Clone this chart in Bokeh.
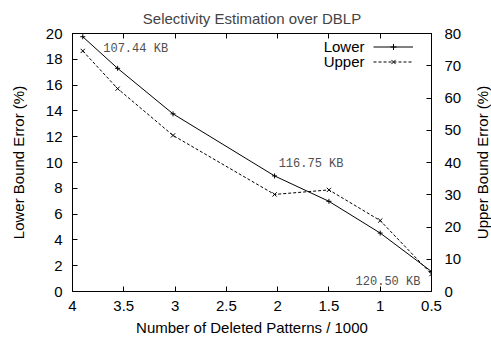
import math
from bokeh.plotting import figure
from bokeh.models import (Range1d, LinearAxis, FixedTicker, CustomJSTickFormatter,
                          Legend, LegendItem, Label, ColumnDataSource)
from bokeh.core.properties import value
from bokeh.embed import file_html
from bokeh.resources import INLINE

# ---- data ----
deleted_k = [3.9, 3.56, 3.02, 2.03, 1.5, 1.0, 0.5]
lower_err = [19.75, 17.3, 13.77, 8.96, 6.99, 4.53, 1.55]
upper_err = [74.6, 62.9, 48.4, 30.1, 31.5, 22.0, 5.4]

x_ticks = [4, 3.5, 3, 2.5, 2, 1.5, 1, 0.5]
x_tick_labels = ["4", "3.5", "3", "2.5", "2", "1.5", "1", "0.5"]
y_ticks = [0, 2, 4, 6, 8, 10, 12, 14, 16, 18, 20]
y2_ticks = [0, 10, 20, 30, 40, 50, 60, 70, 80]

note_x = [3.70, 1.99, 1.24]
note_y = [18.8, 9.9, 0.7]
note_text = ["107.44 KB", "116.75 KB", "120.50 KB"]

series_names = ["Lower", "Upper"]
right_axis_title = "Upper Bound Error (%)"

FONT = "Liberation Sans"
MONO = "Liberation Mono"
FS = "15px"

p = figure(width=491, height=343, output_backend="svg", toolbar_location=None,
           x_range=Range1d(4, 0.5), y_range=Range1d(0, 20),
           min_border_left=72, min_border_right=60, min_border_top=33, min_border_bottom=52,
           x_axis_location=None, y_axis_location=None)
p.extra_y_ranges = {"upper": Range1d(0, 80)}
p.grid.visible = False
p.outline_line_color = "black"
p.outline_line_width = 1
p.background_fill_color = "white"
p.border_fill_color = "white"

p.title.text = "Selectivity Estimation over DBLP"
p.title.align = "center"
p.title.text_font = FONT
p.title.text_font_size = FS
p.title.text_font_style = "normal"
p.title.standoff = 14
p.title.offset = 0


def style_axis(ax, standoff):
    ax.major_tick_in = 5
    ax.major_tick_out = 0
    ax.minor_tick_in = 0
    ax.minor_tick_out = 0
    ax.axis_line_color = "black"
    ax.major_tick_line_color = "black"
    ax.major_label_text_font = FONT
    ax.major_label_text_font_size = FS
    ax.major_label_text_color = "black"
    ax.major_label_standoff = standoff
    ax.axis_label_text_font = FONT
    ax.axis_label_text_font_size = FS
    ax.axis_label_text_font_style = "normal"
    ax.axis_label_text_color = "black"


xb = LinearAxis(ticker=FixedTicker(ticks=x_ticks), axis_label="Number of Deleted Patterns / 1000")
xb.major_label_overrides = {t: l for t, l in zip(x_ticks, x_tick_labels)}
style_axis(xb, 9)
xb.axis_label_standoff = 5
p.add_layout(xb, "below")

xt = LinearAxis(ticker=FixedTicker(ticks=x_ticks),
                formatter=CustomJSTickFormatter(code="return ''"))
style_axis(xt, 0)
p.add_layout(xt, "above")

yl = LinearAxis(ticker=FixedTicker(ticks=y_ticks), axis_label="Lower Bound Error (%)")
style_axis(yl, 10)
yl.axis_label_standoff = 16
p.add_layout(yl, "left")

yr = LinearAxis(y_range_name="upper", ticker=FixedTicker(ticks=y2_ticks))
style_axis(yr, 13)
p.add_layout(yr, "right")

# right axis title, reading bottom-to-top like the reference (side panel: not clipped)
p.add_layout(Label(x=18, y=129, x_units="screen", y_units="screen",
                   text=right_axis_title, angle=math.pi / 2,
                   text_align="center", text_baseline="middle",
                   text_font=FONT, text_font_size=FS, text_color="black"), "right")

src = ColumnDataSource(dict(x=deleted_k, lo=lower_err, up=upper_err))

l1 = p.line("x", "lo", source=src, line_color="black", line_width=1)
m1 = p.scatter("x", "lo", source=src, marker="cross", size=5, line_color="black", line_width=1)
l2 = p.line("x", "up", source=src, y_range_name="upper", line_color="black",
            line_width=1, line_dash="3 2")
m2 = p.scatter("x", "up", source=src, y_range_name="upper", marker="x", size=6,
               line_color="black", line_width=1)

legend = Legend(items=[LegendItem(label=value(""), renderers=[l1, m1]),
                       LegendItem(label=value(""), renderers=[l2, m2])],
                location=(301, 222), orientation="vertical",
                padding=0, spacing=0, margin=0,
                glyph_width=40, glyph_height=15, label_height=15,
                label_width=0, label_standoff=0,
                border_line_color=None, background_fill_alpha=0)
p.add_layout(legend, "center")

# legend texts, right-aligned to the left of the samples (gnuplot style)
for i, name in enumerate(series_names):
    p.add_layout(Label(x=292, y=245 - 15 * i, x_units="screen", y_units="screen",
                       text=name, text_align="right", text_baseline="middle",
                       text_font=FONT, text_font_size=FS, text_color="black"))

for x, y, t in zip(note_x, note_y, note_text):
    p.add_layout(Label(x=x, y=y, text=t, text_align="left", text_baseline="middle",
                       text_font=MONO, text_font_size="12px", text_color="#505050"))

open("out.html", "w").write(file_html(p, INLINE))
